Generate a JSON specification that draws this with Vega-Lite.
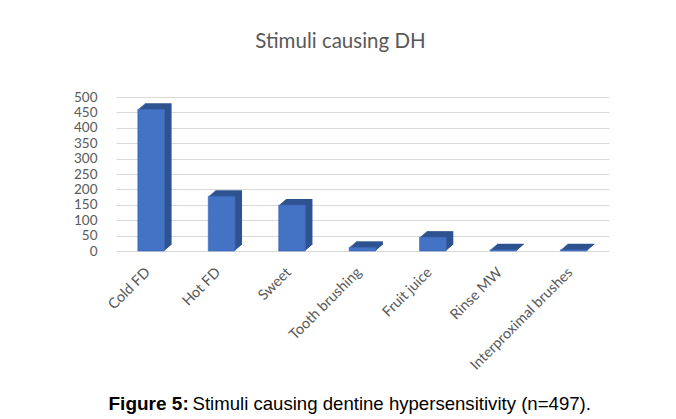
{
  "$schema": "https://vega.github.io/schema/vega-lite/v6.json",
  "autosize": {"type": "none"},
  "width": 493,
  "height": 154,
  "padding": {"left": 116, "top": 97, "right": 67, "bottom": 168},
  "background": "white",
  "title": {
    "text": "Stimuli causing DH",
    "font": "Lato",
    "fontSize": 20.5,
    "fontWeight": "normal",
    "color": "#595959",
    "anchor": "middle",
    "dx": -22,
    "offset": 38
  },
  "data": {
    "values": [
      {"stimulus": "Cold FD", "count": 460},
      {"stimulus": "Hot FD", "count": 178},
      {"stimulus": "Sweet", "count": 149},
      {"stimulus": "Tooth brushing", "count": 12},
      {"stimulus": "Fruit juice", "count": 45},
      {"stimulus": "Rinse MW", "count": 4},
      {"stimulus": "Interproximal brushes", "count": 4}
    ]
  },
  "config": {
    "view": {"stroke": null},
    "axis": {"labelFont": "Lato", "labelColor": "#595959", "labelFontSize": 13.5}
  },
  "encoding": {
    "x": {
      "field": "stimulus",
      "type": "nominal",
      "sort": null,
      "scale": {"paddingInner": 0.62, "paddingOuter": 0.31},
      "axis": {
        "title": "Figure 5:",
        "titleFont": "Liberation Sans",
        "titleFontSize": 19,
        "titleFontWeight": "bold",
        "titleColor": "#000000",
        "titleAlign": "left",
        "titleAnchor": null,
        "titleBaseline": "alphabetic",
        "titleX": -8,
        "titleY": 158,
        "labelAngle": -45,
        "labelAlign": "right",
        "labelBaseline": "top",
        "labelFontSize": 14.5,
        "labelPadding": 14,
        "labelOffset": -8,
        "ticks": false,
        "domain": false,
        "grid": false
      }
    },
    "y": {
      "field": "count",
      "type": "quantitative",
      "scale": {"domain": [0, 500], "nice": false},
      "axis": {
        "title": "Stimuli causing dentine hypersensitivity (n=497).",
        "titleFont": "Liberation Sans",
        "titleFontSize": 18.6,
        "titleFontWeight": "normal",
        "titleColor": "#000000",
        "titleAngle": 0,
        "titleAlign": "left",
        "titleAnchor": null,
        "titleBaseline": "alphabetic",
        "titleX": 76,
        "titleY": 312,
        "values": [0, 50, 100, 150, 200, 250, 300, 350, 400, 450, 500],
        "labelPadding": 19,
        "ticks": false,
        "domain": false,
        "grid": true,
        "gridColor": "#d9d9d9",
        "gridWidth": 1
      }
    }
  },
  "layer": [
    {"mark": {"type": "bar", "color": "#2e5390", "xOffset": 7, "x2Offset": 7, "yOffset": -6, "y2Offset": -6}},
    {"mark": {"type": "bar", "color": "#2e5390", "xOffset": 5.8, "x2Offset": 5.8, "yOffset": -5, "y2Offset": -5}},
    {"mark": {"type": "bar", "color": "#2e5390", "xOffset": 4.7, "x2Offset": 4.7, "yOffset": -4, "y2Offset": -4}},
    {"mark": {"type": "bar", "color": "#2e5390", "xOffset": 3.5, "x2Offset": 3.5, "yOffset": -3, "y2Offset": -3}},
    {"mark": {"type": "bar", "color": "#2e5390", "xOffset": 2.3, "x2Offset": 2.3, "yOffset": -2, "y2Offset": -2}},
    {"mark": {"type": "bar", "color": "#2e5390", "xOffset": 1.2, "x2Offset": 1.2, "yOffset": -1, "y2Offset": -1}},
    {"mark": {"type": "bar", "color": "#4472c4", "stroke": "#3b66b3", "strokeWidth": 0.6}}
  ]
}
